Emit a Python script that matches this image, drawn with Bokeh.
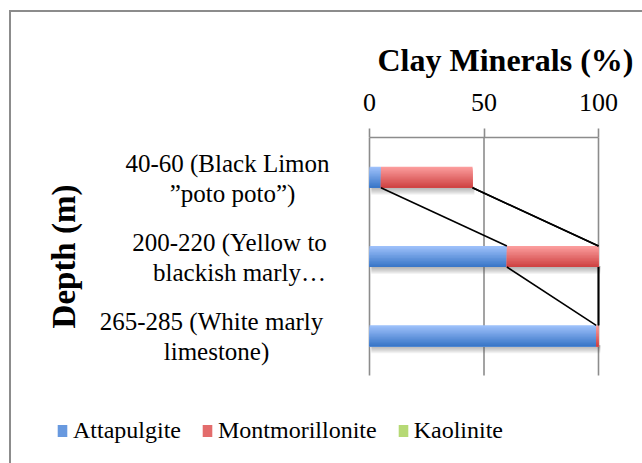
import math
from bokeh.plotting import figure
from bokeh.models import (Range1d, ColumnDataSource, Legend, LegendItem,
                          FixedTicker, Title, Label)
from bokeh.embed import file_html
from bokeh.resources import INLINE

# ---------------- data ----------------
categories = ["40-60 (Black Limon ”poto poto”)",
              "200-220 (Yellow to blackish marly…",
              "265-285 (White marly limestone)"]
label_lines = [["40-60 (Black Limon", "”poto poto”)"],
               ["200-220 (Yellow to", "blackish marly…"],
               ["265-285 (White marly", "limestone)"]]
attapulgite = [5, 60, 99]
montmorillonite = [40, 40, 1]
kaolinite = [0, 0, 0]
series_names = ["Attapulgite", "Montmorillonite", "Kaolinite"]
x_ticks = [0, 50, 100]

# ---------------- layout / styles ----------------
FONT = "Liberation Serif"
GRID = "#8c8c8c"
grad = {
    "Attapulgite": ("#9dc0fa", "#3a77c8"),
    "Montmorillonite": ("#fb9c9c", "#cf4343"),
    "Kaolinite": ("#dcf7a8", "#96c04a"),
}
BAR_H = 0.265
NSTRIP = 14
W, H = 642, 463
X0_PX, X100_PX = 369, 598          # where 0 and 100 sit on the page
TOP_PX, BOT_PX = 137, 375          # category band on the page

ncat = len(categories)
px_per_x = (X100_PX - X0_PX) / 100
px_per_cat = (BOT_PX - TOP_PX) / ncat
x_range = Range1d(-X0_PX / px_per_x, 100 + (W - X100_PX) / px_per_x)
y_range = Range1d(-(H - BOT_PX) / px_per_cat, ncat)
cat_pos = [ncat - i - 0.5 for i in range(ncat)]   # first category on top

def mix(c1, c2, t):
    a = [int(c1[i:i + 2], 16) for i in (1, 3, 5)]
    b = [int(c2[i:i + 2], 16) for i in (1, 3, 5)]
    return "#" + "".join("%02x" % round(a[i] + (b[i] - a[i]) * t) for i in range(3))

LINE_BG = "linear-gradient(#8c8c8c,#8c8c8c)"

p = figure(width=W, height=H, x_range=x_range, y_range=y_range,
           x_axis_location="above", y_axis_location=None,
           output_backend="svg", toolbar_location=None,
           min_border_left=0, min_border_right=0,
           min_border_top=TOP_PX, min_border_bottom=0)
p.border_fill_color = None
p.background_fill_color = None
p.styles = {"background": f"{LINE_BG} 9px 10px / 2px 100% no-repeat, "
                          f"{LINE_BG} 9px 10px / 100% 2px no-repeat, white"}
p.outline_line_color = None
p.grid.visible = False

p.title = Title(text="Clay Minerals (%)", align="left", offset=377,
                text_font=FONT, text_font_size="32px", text_font_style="bold",
                text_color="black", standoff=26)

p.xaxis.ticker = FixedTicker(ticks=x_ticks)
p.xaxis.bounds = (x_ticks[0], x_ticks[-1])
p.xaxis.axis_line_color = GRID
p.xaxis.axis_line_width = 1.6
p.xaxis.major_tick_line_color = GRID
p.xaxis.major_tick_line_width = 1.6
p.xaxis.major_tick_out = 9
p.xaxis.major_tick_in = 0
p.xaxis.minor_tick_line_color = None
p.xaxis.major_label_text_font = FONT
p.xaxis.major_label_text_font_size = "26px"
p.xaxis.major_label_text_color = "black"
p.xaxis.major_label_standoff = 18

# vertical gridlines at the tick values, spanning the category band
p.segment(x0=x_ticks, x1=x_ticks, y0=[0] * len(x_ticks), y1=[ncat] * len(x_ticks),
          line_color=GRID, line_width=1.6)

series_vals = [attapulgite, montmorillonite, kaolinite]
totals = [sum(v[i] for v in series_vals) for i in range(ncat)]

# soft shadow below bars
py = 1 / px_per_cat
sh_left = [0.8] * ncat
sh_right = [t + 0.8 for t in totals]
nsh = 8
for k in range(nsh):
    depth = (k + 1) * py
    top = -BAR_H / 2 + 1 * py
    p.hbar(y=[c + top - depth / 2 for c in cat_pos], left=sh_left,
           right=sh_right, height=depth, fill_color="#505050",
           fill_alpha=0.07, line_color=None)

# gradient bars (each strip runs from its own top to the bar bottom)
cum = [0] * ncat
cum_ends = []
legend_renderers = {}
for name, vals in zip(series_names, series_vals):
    left = list(cum)
    right = [l + v for l, v in zip(left, vals)]
    cum = right
    cum_ends.append(right)
    top_c, bot_c = grad[name]
    for k in range(NSTRIP):
        top_off = BAR_H / 2 - k * BAR_H / NSTRIP
        hgt = BAR_H - k * BAR_H / NSTRIP
        src = ColumnDataSource(dict(y=[c + top_off - hgt / 2 for c in cat_pos],
                                    left=left, right=right))
        r = p.hbar(y="y", left="left", right="right", height=hgt, source=src,
                   fill_color=mix(top_c, bot_c, k / (NSTRIP - 1)), line_color=None)
        if k == NSTRIP // 2:
            legend_renderers[name] = r

# series lines
for ends in cum_ends:
    p.segment(x0=ends[:-1], x1=ends[1:],
              y0=[c - BAR_H / 2 for c in cat_pos[:-1]],
              y1=[c + BAR_H / 2 for c in cat_pos[1:]],
              line_color="black", line_width=1.6)

# category labels (two centred lines each)
line_cx = [(227, 232), (229, 239), (211, 216)]
for pos, lines, cx in zip(cat_pos, label_lines, line_cx):
    for txt, x, yo in zip(lines, cx, (14, -16)):
        p.add_layout(Label(x=x, x_units="screen", y=pos, y_offset=yo, text=txt,
                           text_font=FONT, text_font_size="25px", text_color="black",
                           text_align="center", text_baseline="middle"))

p.add_layout(Label(x=63, x_units="screen", y=cat_pos[1], text="Depth (m)",
                   angle=math.pi / 2, text_font=FONT, text_font_size="33px",
                   text_font_style="bold", text_color="black",
                   text_align="center", text_baseline="middle"))

legend = Legend(items=[LegendItem(label=n, renderers=[legend_renderers[n]]) for n in series_names],
                orientation="horizontal", location=(56, 19),
                label_text_font=FONT, label_text_font_size="24px",
                label_text_color="black",
                glyph_width=12, glyph_height=15, label_standoff=5, spacing=20,
                padding=0, margin=0, border_line_color=None,
                background_fill_alpha=0)
p.add_layout(legend)

open("out.html", "w").write(file_html(p, INLINE))
